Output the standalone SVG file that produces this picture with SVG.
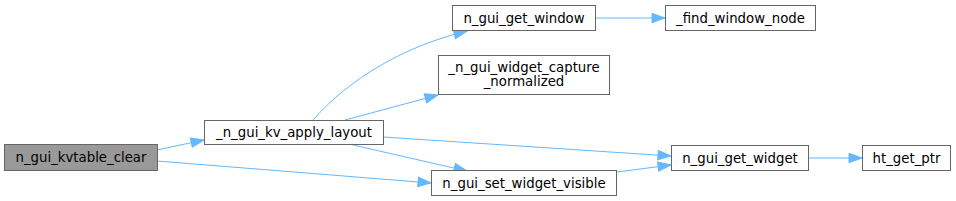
<svg xmlns="http://www.w3.org/2000/svg" width="956" height="201" viewBox="0 0 956 201">
<style>
.n rect{fill:#ffffff;stroke:#666666;stroke-width:1}
.n text{font-family:"DejaVu Sans",sans-serif;font-size:13.3px;text-anchor:middle;fill:#000000}
.e path{fill:none;stroke:#63b8ff;stroke-width:1;marker-end:url(#ah)}
</style>
<defs>
<marker id="ah" markerUnits="userSpaceOnUse" markerWidth="14" markerHeight="11" refX="13" refY="4.7" orient="auto" viewBox="0 0 14 11" overflow="visible">
<path d="M0,0 L13,4.7 L0,9.4 Z" fill="#63b8ff" stroke="#63b8ff" stroke-width="1"/>
</marker>
</defs>
<rect width="956" height="201" fill="#ffffff"/>
<g class="e" id="edges">
<path d="M157,150 L204,140"/>
<path d="M157,161 L431,183"/>
<path d="M313,120 C350,78 405,46 467,31"/>
<path d="M345,120 L438,95"/>
<path d="M383,137 L671,156"/>
<path d="M353,145 L467,171"/>
<path d="M617,172 L671,165"/>
<path d="M596,18 L665,18"/>
<path d="M808,158 L862,158"/>
</g>
<g class="n" id="n_gui_kvtable_clear">
<rect x="4.5" y="144.5" width="153" height="26" style="fill:#999999"/>
<text x="81" y="162">n_gui_kvtable_clear</text>
</g>
<g class="n" id="_n_gui_kv_apply_layout">
<rect x="204.5" y="120.5" width="179" height="24"/>
<text x="294" y="137">_n_gui_kv_apply_layout</text>
</g>
<g class="n" id="n_gui_get_window">
<rect x="452.5" y="5.5" width="143" height="25"/>
<text x="524" y="22.5">n_gui_get_window</text>
</g>
<g class="n" id="_n_gui_widget_capture_normalized">
<rect x="438.5" y="55.5" width="171" height="39"/>
<text x="524" y="72">_n_gui_widget_capture</text>
<text x="524" y="86">_normalized</text>
</g>
<g class="n" id="_find_window_node">
<rect x="665.5" y="5.5" width="150" height="25"/>
<text x="740.5" y="22.5">_find_window_node</text>
</g>
<g class="n" id="n_gui_set_widget_visible">
<rect x="431.5" y="170.5" width="185" height="25"/>
<text x="524" y="187.5">n_gui_set_widget_visible</text>
</g>
<g class="n" id="n_gui_get_widget">
<rect x="671.5" y="145.5" width="137" height="25"/>
<text x="740" y="162.5">n_gui_get_widget</text>
</g>
<g class="n" id="ht_get_ptr">
<rect x="862.5" y="145.5" width="88" height="25"/>
<text x="906.5" y="162.5">ht_get_ptr</text>
</g>
</svg>
